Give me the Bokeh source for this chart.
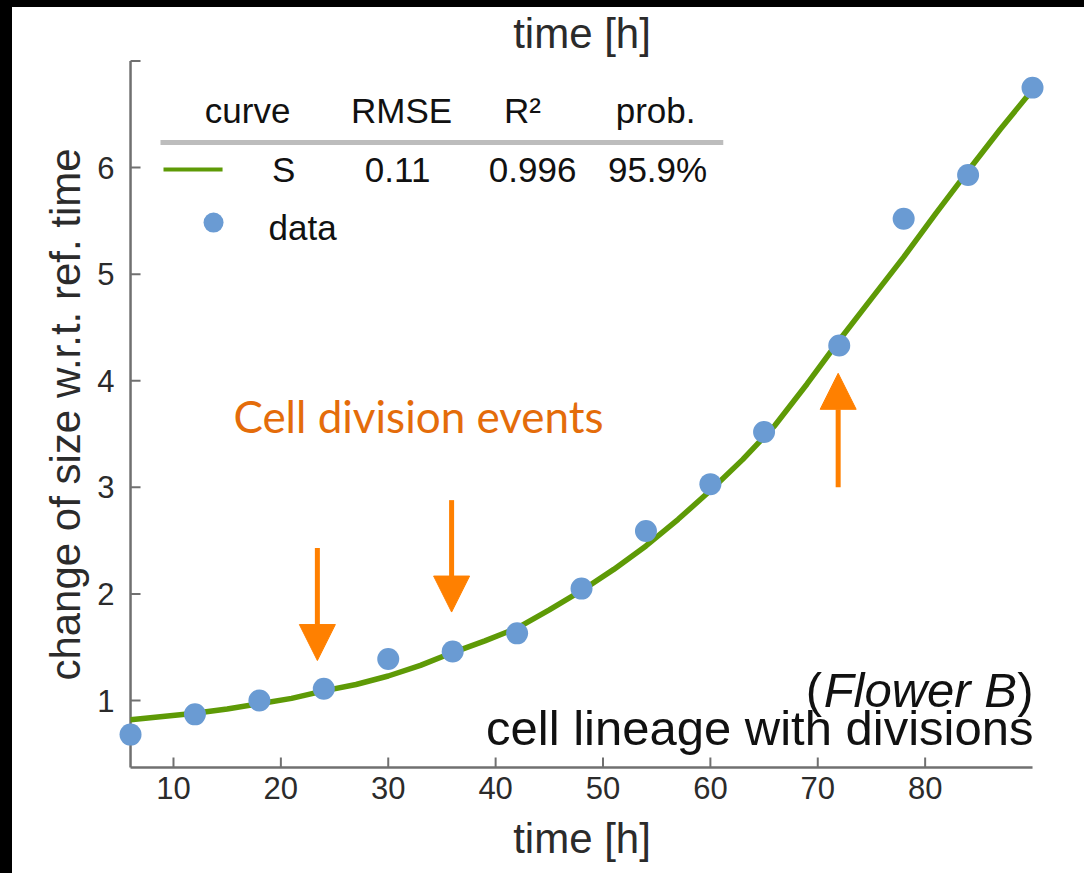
from bokeh.plotting import figure
from bokeh.models import Label, Arrow, NormalHead, FixedTicker, Range1d, ColumnDataSource
from bokeh.layouts import column
from bokeh.embed import file_html
from bokeh.resources import INLINE

# ---------------- data ----------------
time_h = [6, 12, 18, 24, 30, 36, 42, 48, 54, 60, 65, 72, 78, 84, 90]
size_change = [0.68, 0.87, 1.00, 1.11, 1.39, 1.46, 1.63, 2.05, 2.59, 3.03, 3.52, 4.33, 5.52, 5.93, 6.75]

fit_time = [6, 9, 12, 15, 18, 21, 24, 27, 30, 33, 36, 39, 42, 45, 48, 51, 54, 57, 60, 63, 66, 69, 72, 75, 78, 81, 84, 87, 90]
fit_S = [0.82, 0.85, 0.88, 0.92, 0.97, 1.02, 1.09, 1.15, 1.23, 1.33, 1.45, 1.56, 1.68, 1.85, 2.03, 2.23, 2.45,
         2.70, 2.97, 3.26, 3.58, 3.97, 4.38, 4.77, 5.16, 5.57, 5.97, 6.36, 6.73]

division_time = [23.4, 35.9, 71.9]
arrow_from = [2.43, 2.88, 3.00]
arrow_to = [1.375, 1.83, 4.07]

x_ticks = [10, 20, 30, 40, 50, 60, 70, 80]
y_ticks = [1, 2, 3, 4, 5, 6, 7]
x_axis_extent = [6, 90]
y_axis_extent = [0.3715, 7.0]

table_header = ["curve", "RMSE", "R²", "prob."]
table_row = ["S", "0.11", "0.996", "95.9%"]

# ---------------- styles ----------------
GREEN = "#5E9A06"
BLUE = "#6A9BD3"
ORANGE = "#FF8000"
TXT_ORANGE = "#E46C0A"
AX = "#707070"
TXT = "#2B2B2B"
FONT = "Liberation Sans"

X0, X1 = x_axis_extent
Y0, Y1 = y_axis_extent
PX_PER_X = 10.738
PX_PER_Y = 106.55

p = figure(width=1072, height=866, output_backend="svg", toolbar_location=None,
           x_range=Range1d(4.6, 4.6 + 933 / PX_PER_X), y_range=Range1d(0.3246, 7.04225),
           min_border_left=103, min_border_right=36, min_border_top=49, min_border_bottom=101)
p.margin = (7, 0, 0, 12)
p.styles = {"background-color": "white"}
p.outline_line_color = None
p.grid.visible = False
p.background_fill_color = "white"
p.border_fill_color = "white"

p.title.text = "time [h]"
p.title.align = "center"
p.title.text_font = FONT
p.title.text_font_size = "42px"
p.title.text_font_style = "normal"
p.title.text_color = TXT
p.title.standoff = 0

for ax in (p.xaxis[0], p.yaxis[0]):
    ax.axis_line_color = None
    ax.major_tick_line_color = None
    ax.major_tick_in = 0
    ax.major_tick_out = 0
    ax.minor_tick_line_color = None
    ax.major_label_text_font = FONT
    ax.major_label_text_font_size = "31px"
    ax.major_label_text_color = TXT
    ax.axis_label_text_font = FONT
    ax.axis_label_text_font_size = "42px"
    ax.axis_label_text_font_style = "normal"
    ax.axis_label_text_color = TXT

p.xaxis[0].ticker = FixedTicker(ticks=x_ticks)
p.yaxis[0].ticker = FixedTicker(ticks=y_ticks)
p.yaxis[0].major_label_overrides = {7: ""}
p.xaxis[0].axis_label = "time [h]"
p.yaxis[0].axis_label = "change of size w.r.t. ref. time"
p.xaxis[0].major_label_standoff = 4
p.yaxis[0].major_label_standoff = 1
p.xaxis[0].axis_label_standoff = 13
p.yaxis[0].axis_label_standoff = 5

# axis lines and inward ticks (drawn at the data extent)
p.segment(x0=[X0], y0=[Y0], x1=[X1], y1=[Y0], line_color=AX, line_width=2.5)
p.segment(x0=[X0], y0=[Y0], x1=[X0], y1=[Y1], line_color=AX, line_width=2.5)
p.segment(x0=x_ticks, y0=[Y0] * len(x_ticks), x1=x_ticks, y1=[Y0 + 10 / PX_PER_Y] * len(x_ticks),
          line_color=AX, line_width=2)
p.segment(x0=[X0] * len(y_ticks), y0=y_ticks, x1=[X0 + 10 / PX_PER_X] * len(y_ticks), y1=y_ticks,
          line_color=AX, line_width=2)

# fitted curve + data
p.line(fit_time, fit_S, line_width=5.5, line_color=GREEN)
p.scatter(time_h, size_change, size=22, fill_color=BLUE, line_color=None)

# arrows for cell division events
asrc = ColumnDataSource(dict(x=division_time, y0=arrow_from, y1=arrow_to))
p.add_layout(Arrow(source=asrc, x_start="x", y_start="y0", x_end="x", y_end="y1",
                   line_color=ORANGE, line_width=5,
                   end=NormalHead(size=36, fill_color=ORANGE, line_color=ORANGE, line_width=1)))

def lab(x, y, text, size, color=TXT, align="center", font=FONT, style="normal", baseline="middle"):
    p.add_layout(Label(x=x, y=y, text=text, text_font=font, text_font_size=size,
                       text_color=color, text_align=align, text_baseline=baseline,
                       text_font_style=style))

# legend table
hdr_x = [16.9, 31.24, 42.5, 54.9]
row_x = [20.25, 30.87, 43.44, 55.08]
for xx, t in zip(hdr_x, table_header):
    lab(xx, 6.535, t, "35px", color="#111111")
for xx, t in zip(row_x, table_row):
    lab(xx, 5.982, t, "35px", color="#111111")
p.segment(x0=[8.79], y0=[6.235], x1=[61.2], y1=[6.235], line_color="#BDBDBD", line_width=5)
p.segment(x0=[9.07], y0=[5.982], x1=[14.57], y1=[5.982], line_color=GREEN, line_width=4)
p.scatter([13.73], [5.484], size=20, fill_color=BLUE, line_color=None)
lab(18.85, 5.44, "data", "35px", color="#111111", align="left")

# annotation text
lab(32.82, 3.67, "Cell division events", "44px", color=TXT_ORANGE, font="Lato")

# bottom-right caption
lab(90.09, 1.095, ")", "49px", color="#111111", align="right")
lab(88.55, 1.095, "Flower B", "49px", color="#111111", align="right", style="italic")
lab(70.4, 1.095, "(", "49px", color="#111111", align="right")
lab(90.09, 0.74, "cell lineage with divisions", "49px", color="#111111", align="right")

root = column(p, width=1084, height=873, styles={"background-color": "black"})
open("out.html", "w").write(file_html(root, INLINE))
